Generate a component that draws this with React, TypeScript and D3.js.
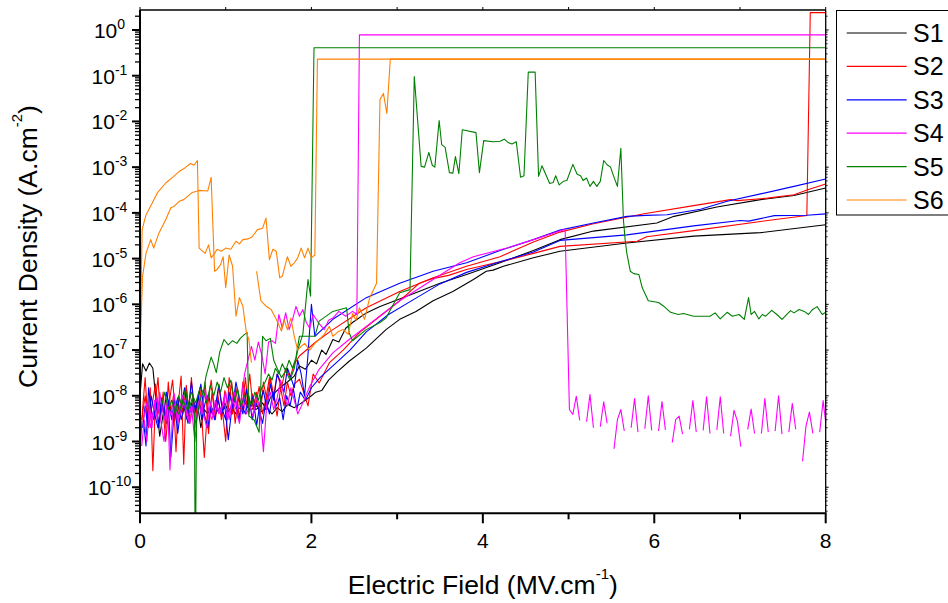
import React from 'react';
import * as d3 from 'd3';

type P = [number, number | null];

// ---------- data (x: MV/cm, y: A/cm^2) ----------
const s1Sweep1: P[] = [[0,1e-8],[0.03,5e-8],[0.07,3.5e-8],[0.11,5.2e-8],[0.15,4e-8],[0.19,7e-9],[0.23,1.3e-9],[0.27,4e-9],[0.31,2.5e-9],[0.35,6e-9],[0.39,3.5e-9],[0.43,7e-9],[0.47,4e-9],[0.51,6e-9],[0.55,3e-9],[0.59,5e-9],[0.63,4.5e-9],[0.67,7e-9],[0.71,2e-9],[0.75,5e-9],[0.79,4e-9],[0.83,6e-9],[0.87,3.5e-9],[0.91,5e-9],[0.95,4e-9],[0.99,7e-9],[1.03,4.5e-9],[1.07,6e-9],[1.11,4e-9],[1.15,5.5e-9],[1.19,5e-9],[1.23,7e-9],[1.27,5e-9],[1.31,6.5e-9],[1.35,5e-9],[1.39,5.5e-9],[1.43,7e-9],[1.47,5e-9],[1.52,9e-9],[1.58,1.2e-8],[1.65,1.6e-8],[1.72,2e-8],[1.8,2.7e-8],[1.86,4.5e-8],[1.93,3.8e-8],[2.0,6e-8],[2.06,5e-8],[2.12,1e-7],[2.17,8e-8],[2.25,1.7e-7],[2.32,1.5e-7],[2.4,3e-7],[2.48,4e-7],[2.64,6.5e-7],[2.8,9e-7],[3.15,1.6e-6],[3.5,2.9e-6],[3.81,4.5e-6],[4.2,8.1e-6],[4.59,1.5e-5],[4.9,2.6e-5],[5.29,4e-5],[6.03,6e-5],[6.23,8.4e-5],[6.73,1.35e-4],[7.24,1.95e-4],[7.63,2.4e-4],[8.0,3.5e-4]];
const s1Sweep2: P[] = [[1.3,5e-9],[1.36,6e-9],[1.42,4.5e-9],[1.48,5.5e-9],[1.54,4e-9],[1.6,5.5e-9],[1.66,4.5e-9],[1.72,6.5e-9],[1.8,5.5e-9],[1.86,6.5e-9],[1.93,8e-9],[2.0,1e-8],[2.05,1.2e-8],[2.12,1.3e-8],[2.2,2.2e-8],[2.29,3.2e-8],[2.44,5.7e-8],[2.64,1.1e-7],[2.87,2.8e-7],[3.03,4.7e-7],[3.22,7e-7],[3.42,1.2e-6],[3.65,1.9e-6],[3.89,3.5e-6],[4.04,5.3e-6],[4.12,5.6e-6],[4.24,6.8e-6],[4.59,1.04e-5],[4.9,1.45e-5],[5.68,2.2e-5],[6.46,3.1e-5],[7.24,3.7e-5],[8.0,5.5e-5]];

const s2Sweep1: P[] = [[0,5.7e-10],[0.03,5e-9],[0.06,2.5e-8],[0.09,3e-9],[0.12,1.5e-8],[0.15,2.3e-10],[0.18,8e-9],[0.21,2.5e-8],[0.24,3e-9],[0.27,1.2e-8],[0.3,2e-9],[0.33,2e-8],[0.36,4e-9],[0.39,1e-8],[0.42,6e-10],[0.45,8e-9],[0.48,2.7e-8],[0.51,3.2e-10],[0.54,1.5e-8],[0.57,5e-9],[0.6,2.5e-8],[0.64,2e-9],[0.68,1e-8],[0.72,4e-9],[0.76,2e-8],[0.8,1.5e-9],[0.84,1.2e-8],[0.88,3e-9],[0.92,1.8e-8],[0.96,5e-9],[1.0,1e-9],[1.04,2.5e-8],[1.08,4e-9],[1.12,1.5e-8],[1.16,3e-9],[1.2,2e-8],[1.24,6e-9],[1.28,3e-8],[1.32,5e-9],[1.36,1.2e-8],[1.4,3e-9],[1.44,2e-8],[1.48,8e-9],[1.52,2.5e-8],[1.56,1e-8],[1.6,3e-8],[1.65,1.5e-8],[1.7,4e-8],[1.75,2.5e-8],[1.8,5e-8],[1.86,7.4e-8],[2.05,1.5e-7],[2.25,2.8e-7],[2.64,8.4e-7],[3.03,1.9e-6],[3.42,3.8e-6],[3.81,6.8e-6],[4.2,1.1e-5],[4.59,2.3e-5],[4.9,3.8e-5],[5.29,5.8e-5],[5.88,9.6e-5],[6.46,1.44e-4],[6.89,1.95e-4],[6.97,1.85e-4],[7.32,2.1e-4],[7.63,2.5e-4],[7.79,3.2e-4],[8.0,4.3e-4]];
const s2Sweep2: P[] = [[0.02,3e-9],[0.06,1e-8],[0.1,2e-9],[0.14,6e-9],[0.18,1.8e-8],[0.22,4e-9],[0.26,8e-9],[0.3,1e-9],[0.34,7e-9],[0.38,2.2e-8],[0.42,3e-9],[0.46,9e-9],[0.5,4e-9],[0.54,1.7e-8],[0.58,2.5e-9],[0.62,8e-9],[0.66,5e-9],[0.7,1.5e-8],[0.75,4.5e-10],[0.79,6e-9],[0.83,2.2e-8],[0.87,5e-9],[0.91,1e-8],[0.95,3e-9],[0.99,1.3e-8],[1.03,5e-9],[1.07,2e-8],[1.11,2.5e-9],[1.15,9e-9],[1.19,5e-9],[1.23,2.5e-8],[1.27,4e-9],[1.31,1.1e-8],[1.35,6e-9],[1.39,1.6e-8],[1.43,4e-9],[1.47,9e-9],[1.51,2.5e-8],[1.55,1.2e-8],[1.6,3.6e-9],[1.64,1.5e-8],[1.68,6e-9],[1.72,2e-8],[1.76,1e-8],[1.8,1.8e-8],[1.86,2.3e-8],[1.96,6e-9],[2.02,3e-8],[2.09,1.9e-8],[2.21,5.3e-8],[2.37,1e-7],[2.56,2.4e-7],[2.8,5.5e-7],[3.03,1.2e-6],[3.26,2.9e-6],[3.4,3.6e-6],[3.6,4.3e-6],[3.81,5.8e-6],[4.2,8.5e-6],[4.59,1.3e-5],[4.9,1.85e-5],[5.8,2.4e-5],[5.91,3e-5],[6.46,4.1e-5],[7.24,6.5e-5],[7.78,8.8e-5],[7.82,2.4],[8.0,2.4]];

const s3Sweep1: P[] = [[0.04,3e-9],[0.07,8e-10],[0.1,1.5e-8],[0.13,5e-9],[0.16,3e-9],[0.19,7e-9],[0.22,2e-9],[0.25,9e-9],[0.28,4e-9],[0.31,1.2e-8],[0.34,6e-9],[0.37,3e-9],[0.4,8e-9],[0.44,1.5e-9],[0.48,6e-9],[0.52,1.5e-8],[0.56,4e-9],[0.6,2e-8],[0.64,5e-9],[0.68,1e-8],[0.72,3e-9],[0.76,7e-9],[0.8,1.1e-8],[0.84,4e-9],[0.88,6e-9],[0.92,1.7e-8],[0.96,5e-9],[1.0,3e-9],[1.04,1.2e-8],[1.08,6e-9],[1.12,2e-8],[1.16,8e-9],[1.2,4e-9],[1.24,1.4e-8],[1.28,5e-9],[1.32,1e-8],[1.36,2.2e-9],[1.4,7e-9],[1.44,1.3e-8],[1.48,5e-9],[1.52,1.8e-8],[1.56,8e-9],[1.6,3e-8],[1.64,2e-8],[1.68,1.2e-8],[1.72,4e-8],[1.76,2.5e-8],[1.8,1.5e-8],[1.84,6e-8],[1.88,3e-8],[1.92,1e-8],[1.96,8e-8],[2.0,1e-6],[2.04,2e-7],[2.25,4.7e-7],[2.64,1.4e-6],[3.03,2.9e-6],[3.42,5.3e-6],[3.81,8.1e-6],[4.2,1.5e-5],[4.59,2.6e-5],[4.9,4.2e-5],[5.29,6e-5],[5.68,8.4e-5],[5.9,8.8e-5],[6.15,9.1e-5],[6.54,1.2e-4],[6.85,1.8e-4],[7.24,2.6e-4],[7.63,3.8e-4],[8.0,5.5e-4]];
const s3Sweep2: P[] = [[0.03,2e-9],[0.06,6e-9],[0.09,2.2e-9],[0.13,1e-8],[0.17,4e-9],[0.21,2e-9],[0.25,6e-9],[0.29,3.5e-9],[0.33,8e-9],[0.36,4.6e-10],[0.4,5e-9],[0.44,9e-9],[0.48,3e-9],[0.52,6e-9],[0.56,2.5e-9],[0.6,7e-9],[0.64,4e-9],[0.68,9e-9],[0.71,1.8e-8],[0.75,4e-9],[0.79,2e-9],[0.83,6e-9],[0.87,3e-9],[0.91,8e-9],[0.95,4e-9],[0.99,6e-9],[1.03,1.1e-9],[1.07,5e-9],[1.11,9e-9],[1.15,3e-9],[1.19,6e-9],[1.23,4e-9],[1.27,1e-8],[1.31,3e-9],[1.35,7e-9],[1.39,5e-9],[1.43,2.5e-9],[1.47,8e-9],[1.51,4e-9],[1.55,1.2e-8],[1.59,6e-9],[1.63,9e-9],[1.67,3e-9],[1.71,1e-8],[1.75,6e-9],[1.79,1.4e-8],[1.83,5e-9],[1.87,1.2e-8],[1.93,8e-9],[2.0,1.5e-8],[2.1,2.5e-8],[2.25,4.5e-8],[2.45,1e-7],[2.64,2.5e-7],[2.9,6e-7],[3.2,1.3e-6],[3.5,2.8e-6],[3.81,5e-6],[4.2,8.5e-6],[4.59,1.4e-5],[4.9,2.5e-5],[5.68,3.3e-5],[6.46,5.2e-5],[7.0,6.8e-5],[7.1,6.6e-5],[7.4,8.7e-5],[7.78,8.9e-5],[8.0,9.5e-5]];

const s4Sweep1: P[] = [[0.02,8e-10],[0.05,3e-9],[0.08,1e-9],[0.11,6e-9],[0.14,2e-9],[0.17,8e-9],[0.2,3e-9],[0.23,1.2e-8],[0.26,5e-9],[0.29,3e-9],[0.32,8e-9],[0.35,2.4e-10],[0.38,4e-9],[0.41,7e-9],[0.44,3e-9],[0.47,6e-9],[0.5,1e-8],[0.54,4e-9],[0.58,2.5e-9],[0.62,6e-9],[0.66,3e-9],[0.7,1e-8],[0.74,4e-9],[0.78,2e-9],[0.82,7e-9],[0.86,3.5e-9],[0.9,6e-9],[0.94,4e-9],[0.98,9e-9],[1.02,3e-9],[1.06,6e-9],[1.1,1.2e-8],[1.14,5e-9],[1.18,8e-9],[1.22,3e-8],[1.26,6e-8],[1.3,1.2e-7],[1.34,6e-8],[1.38,1.5e-7],[1.42,8e-8],[1.46,3e-8],[1.5,1.5e-7],[1.54,1.6e-7],[1.58,1.4e-7],[1.62,6e-7],[1.66,3e-7],[1.7,6.5e-7],[1.74,2.8e-7],[1.78,4.7e-7],[1.82,9e-7],[1.86,5.5e-7],[1.9,7.7e-7],[1.94,4e-7],[1.98,3e-7],[2.02,6e-7],[2.08,4e-7],[2.15,2.8e-7],[2.2,4.5e-7],[2.25,5e-7],[2.32,7e-7],[2.4,5.5e-7],[2.48,7e-7],[2.53,6e-7],[2.56,0.78],[8.0,0.78]];
const s4Sweep2: P[] = [[0.04,3e-9],[0.08,7e-9],[0.12,2e-9],[0.16,5e-9],[0.2,9e-9],[0.24,3e-9],[0.28,1e-9],[0.32,6e-9],[0.36,4e-9],[0.4,1.1e-8],[0.44,2.5e-9],[0.48,5e-9],[0.52,8e-9],[0.56,3e-9],[0.6,6e-9],[0.64,1e-9],[0.68,7e-9],[0.72,4e-9],[0.76,1.4e-8],[0.8,5e-9],[0.84,3e-9],[0.88,8e-9],[0.92,4e-9],[0.96,6e-9],[1.0,1.2e-8],[1.04,3e-9],[1.08,8e-9],[1.12,5e-9],[1.16,2.5e-9],[1.2,9e-9],[1.24,4e-9],[1.28,6e-9],[1.32,3.5e-9],[1.36,1e-8],[1.4,5e-9],[1.44,6e-10],[1.48,7e-9],[1.52,1.2e-8],[1.56,5e-9],[1.6,9e-9],[1.64,2.2e-8],[1.68,1e-8],[1.72,6e-9],[1.76,1.5e-8],[1.8,8e-9],[1.84,4e-9],[1.9,7e-9],[1.98,1.6e-8],[2.09,3.8e-8],[2.25,8.7e-8],[2.44,1.7e-7],[2.64,3.3e-7],[3.03,1.2e-6],[3.42,3.5e-6],[3.73,8.1e-6],[3.89,1.1e-5],[4.28,1.7e-5],[4.59,2.6e-5],[4.96,4.4e-5],
  [5.01,5e-9],[5.05,3.9e-9],[5.09,9.8e-9],[5.13,2.9e-9],[5.17,null],[5.21,2.7e-9],[5.25,1.07e-8],[5.29,2e-9],[5.33,null],[5.37,2.1e-9],[5.41,7.4e-9],[5.45,2.5e-9],[5.49,null],[5.53,6.9e-10],[5.57,3e-9],[5.61,5e-9],[5.65,1.7e-9],[5.69,null],[5.73,2e-9],[5.77,8.7e-9],[5.81,1.6e-9],[5.85,null],[5.89,1.9e-9],[5.93,1e-8],[5.97,1.75e-9],[6.01,null],[6.05,1.7e-9],[6.09,7.5e-9],[6.13,1.8e-9],[6.17,null],[6.21,9.5e-10],[6.25,3e-9],[6.29,3.6e-9],[6.33,1.45e-9],[6.37,null],[6.41,1.85e-9],[6.45,7.9e-9],[6.49,1.6e-9],[6.53,null],[6.57,1.75e-9],[6.61,9.5e-9],[6.65,1.5e-9],[6.69,null],[6.73,1.8e-9],[6.77,9.5e-9],[6.81,1.5e-9],[6.85,null],[6.89,1.3e-9],[6.93,4.8e-9],[6.97,2.8e-9],[7.01,7.7e-10],[7.05,null],[7.09,1.85e-9],[7.13,5.1e-9],[7.17,1.5e-9],[7.21,null],[7.25,1.5e-9],[7.29,8.7e-9],[7.33,1.6e-9],[7.37,null],[7.41,1.7e-9],[7.45,1e-8],[7.49,1.45e-9],[7.53,null],[7.57,1.6e-9],[7.61,6.8e-9],[7.65,1.85e-9],[7.69,null],[7.73,3.7e-10],[7.77,2.2e-9],[7.81,4.4e-9],[7.85,1.5e-9],[7.89,null],[7.93,1.6e-9],[7.97,7.9e-9],[8.0,2.6e-9]];

const s5Sweep1: P[] = [[0.4,6e-9],[0.45,4e-9],[0.5,8e-9],[0.55,5e-9],[0.6,1.2e-8],[0.65,7e-9],[0.7,1.5e-8],[0.74,1.2e-8],[0.77,2.7e-8],[0.83,7e-8],[0.86,5e-8],[0.89,3.2e-8],[0.93,9e-8],[0.98,1.7e-7],[1.03,1.3e-7],[1.08,1.6e-7],[1.13,1.4e-7],[1.17,1.8e-7],[1.22,2.2e-7],[1.25,2.4e-7],[1.27,3.6e-9],[1.33,3e-9],[1.39,1.6e-9],[1.43,2e-7],[1.47,1.6e-7],[1.52,1.8e-7],[1.56,6e-8],[1.6,4e-8],[1.65,2.5e-8],[1.7,3.5e-8],[1.75,2.2e-8],[1.8,4e-8],[1.84,1e-7],[1.9,2.2e-7],[1.96,3.5e-6],[1.99,1.5e-6],[2.03,0.41],[8.0,0.41]];
const s5Sweep2: P[] = [[0.25,6e-9],[0.29,1.2e-8],[0.33,5e-9],[0.37,8e-9],[0.41,4e-9],[0.45,1e-8],[0.49,6e-9],[0.53,1.4e-8],[0.57,5e-9],[0.61,9e-9],[0.635,4e-9],[0.645,1e-12],[0.66,3e-9],[0.7,8e-9],[0.74,1.3e-8],[0.78,7e-9],[0.82,1.7e-8],[0.86,1e-8],[0.9,2e-8],[0.94,1.2e-8],[0.98,2.5e-8],[1.02,1.5e-8],[1.06,2.2e-8],[1.1,8e-9],[1.14,1.4e-8],[1.18,6e-9],[1.22,1e-8],[1.26,1e-8],[1.3,6e-9],[1.34,1.2e-8],[1.38,8e-9],[1.42,1.5e-8],[1.46,2e-8],[1.5,3e-8],[1.54,2.2e-8],[1.58,4e-8],[1.62,3e-8],[1.66,5e-8],[1.7,3.5e-8],[1.74,6e-8],[1.78,4e-8],[1.82,7e-8],[1.86,2e-7],[2.04,2e-7],[2.09,4.3e-7],[2.25,7e-7],[2.41,8.4e-7],[2.44,2.4e-7],[2.48,1.6e-7],[2.64,2.8e-7],[2.8,4e-7],[2.87,5e-7],[3.03,1.8e-6],[3.15,2.1e-6],[3.2,0.096],[3.28,1.04e-3],[3.32,1e-3],[3.37,2.1e-3],[3.41,1.1e-3],[3.44,1e-3],[3.49,1.05e-2],[3.52,3.1e-3],[3.56,2.7e-3],[3.61,7.6e-4],[3.65,7.4e-4],[3.68,1.7e-3],[3.72,7.2e-4],[3.76,6.6e-3],[3.92,5.7e-3],[3.96,7.6e-4],[4.01,3.8e-3],[4.12,3.6e-3],[4.2,3.7e-3],[4.25,4.1e-3],[4.3,3.4e-3],[4.34,3.2e-3],[4.39,3.6e-3],[4.44,6e-4],[4.48,6.5e-4],[4.53,0.12],[4.61,0.12],[4.65,6.3e-4],[4.69,1.07e-3],[4.78,4.4e-4],[4.82,4.6e-4],[4.85,6.5e-4],[4.89,4.1e-4],[4.94,4.9e-4],[4.98,5.1e-4],[5.05,1.15e-3],[5.1,7e-4],[5.14,6.5e-4],[5.17,5.1e-4],[5.21,5.8e-4],[5.25,3.8e-4],[5.29,4.9e-4],[5.33,3.8e-4],[5.37,4.9e-4],[5.41,1.4e-3],[5.45,1.13e-3],[5.49,1e-3],[5.52,6.8e-4],[5.57,3.8e-4],[5.61,2.6e-3],[5.64,7.1e-5],[5.66,2.6e-5],[5.68,1.3e-5],[5.72,5.3e-6],[5.76,4.7e-6],[5.82,4.5e-6],[5.86,2.3e-6],[5.93,1.2e-6],[6.05,1.1e-6],[6.11,9.1e-7],[6.19,6.7e-7],[6.28,6e-7],[6.34,6.3e-7],[6.46,5.5e-7],[6.65,5.5e-7],[6.71,6.5e-7],[6.77,4.8e-7],[6.85,6.7e-7],[6.91,5.5e-7],[6.99,6e-7],[7.05,4.7e-7],[7.1,1.4e-6],[7.13,6e-7],[7.17,7e-7],[7.22,4.8e-7],[7.26,6e-7],[7.3,5.5e-7],[7.37,7.4e-7],[7.43,6e-7],[7.49,4.7e-7],[7.59,7.3e-7],[7.63,6.5e-7],[7.69,7.7e-7],[7.75,7e-7],[7.8,6e-7],[7.84,7.5e-7],[7.9,8.9e-7],[7.96,6e-7],[8.0,6.7e-7]];

const s6Sweep1: P[] = [[0,1e-7],[0.025,4.3e-5],[0.07,9e-5],[0.14,1.6e-4],[0.2,2.7e-4],[0.3,4.5e-4],[0.38,6e-4],[0.46,8.1e-4],[0.52,9.5e-4],[0.59,1.2e-3],[0.63,1.1e-3],[0.67,1.4e-3],[0.69,1.7e-5],[0.76,1.3e-5],[0.8,2e-5],[0.83,1.04e-5],[0.87,1.3e-5],[0.9,1.6e-5],[0.95,1.45e-5],[1.0,1.7e-5],[1.06,1.6e-5],[1.12,2.4e-5],[1.16,2.1e-5],[1.2,2.6e-5],[1.26,2.7e-5],[1.31,3e-5],[1.37,4.3e-5],[1.43,4.6e-5],[1.47,7.7e-5],[1.51,9.5e-6],[1.55,1.6e-5],[1.59,1.45e-5],[1.63,3.8e-6],[1.66,4.1e-6],[1.72,1.1e-5],[1.76,6.8e-6],[1.8,8.1e-6],[1.84,1.04e-5],[1.88,1.7e-5],[1.92,1.04e-5],[1.96,1.7e-5],[2.0,1.04e-5],[2.04,1.2e-5],[2.07,0.23],[8.0,0.23]];
const s6Sweep2: P[] = [[0,1e-7],[0.03,4.1e-6],[0.07,1.3e-5],[0.125,2.6e-5],[0.16,1.7e-5],[0.22,3.6e-5],[0.3,7.1e-5],[0.36,1.3e-4],[0.4,1.4e-4],[0.46,1.8e-4],[0.51,1.95e-4],[0.61,2.8e-4],[0.69,3.1e-4],[0.79,3e-4],[0.83,6e-4],[0.87,5.3e-6],[0.9,5.8e-6],[0.94,7.4e-6],[0.97,1.1e-5],[1.0,2.3e-6],[1.04,1.2e-5],[1.08,6.8e-6],[1.12,5.5e-7],[1.16,1.4e-6],[1.2,9.1e-7],[1.24,2.5e-7],[1.27,1.7e-7],[1.3,5.3e-8],[1.33,null],[1.36,5.3e-6],[1.41,1.2e-6],[1.47,9.1e-7],[1.53,7.7e-7],[1.59,4.7e-7],[1.65,2.6e-7],[1.68,4.7e-7],[1.72,2.8e-7],[1.76,5e-7],[1.8,2e-7],[1.84,1e-7],[1.88,1.2e-7],[1.92,1.4e-7],[1.98,1e-7],[2.04,1.4e-7],[2.09,1.7e-7],[2.15,2.2e-7],[2.21,3.3e-7],[2.25,2e-7],[2.31,2.5e-7],[2.37,2.8e-7],[2.43,2.2e-7],[2.48,6.3e-7],[2.52,4.5e-7],[2.56,8.4e-7],[2.62,4.7e-7],[2.68,1.4e-6],[2.76,2.9e-6],[2.8,0.03],[2.84,0.041],[2.88,0.015],[2.92,0.23],[8.0,0.23]];

const seriesNames = ['S1', 'S2', 'S3', 'S4', 'S5', 'S6'];
const seriesColors = ['#000000', '#ff0000', '#0000ff', '#ff00ff', '#008000', '#ff8000'];
const seriesCurves: P[][][] = [
  [s1Sweep1, s1Sweep2],
  [s2Sweep1, s2Sweep2],
  [s3Sweep1, s3Sweep2],
  [s4Sweep1, s4Sweep2],
  [s5Sweep1, s5Sweep2],
  [s6Sweep1, s6Sweep2],
];

const xMajorTicks = [0, 2, 4, 6, 8];
const xMinorTicks = [1, 3, 5, 7];
const yExponents = [0, -1, -2, -3, -4, -5, -6, -7, -8, -9, -10];

const FONT = '"Liberation Sans", Arial, Helvetica, sans-serif';

export default function App() {
  const W = 948, H = 603;
  const left = 140, right = 825.7, top = 10, bottom = 513.3;
  const x = d3.scaleLinear().domain([0, 8]).range([left, right]);
  const y = d3.scaleLog().domain([Math.pow(10, -10.57), Math.pow(10, 0.437)]).range([bottom, top]);
  const [yLo, yHi] = y.domain();

  const line = d3.line<P>()
    .defined(d => d[1] !== null && (d[1] as number) > 0)
    .x(d => x(d[0]))
    .y(d => y(d[1] as number));

  const yMinor: number[] = [];
  for (let k = -11; k <= 0; k++) {
    for (let m = 2; m <= 9; m++) {
      const v = m * Math.pow(10, k);
      if (v >= yLo && v <= yHi) yMinor.push(v);
    }
  }
  const allXInts = [...xMajorTicks, ...xMinorTicks];

  const legendX = 836.5, legendY = 10.5, legendRow = 33.4;

  return (
    <svg width={W} height={H} style={{ position: 'absolute', left: 0, top: 0, background: '#fff' }}
      fontFamily={FONT}>
      <defs>
        <clipPath id="plotClip">
          <rect x={left} y={top} width={right - left + 1} height={bottom - top} />
        </clipPath>
      </defs>
      <rect x={0} y={0} width={W} height={H} fill="#fff" />

      <g clipPath="url(#plotClip)">
        {seriesCurves.map((curves, si) =>
          curves.map((c, ci) => (
            <path key={`${si}-${ci}`} d={line(c) || ''} fill="none"
              stroke={seriesColors[si]} strokeWidth={1.1} strokeLinejoin="round" />
          ))
        )}
      </g>

      {/* frame top & right */}
      <line x1={left} x2={right} y1={top} y2={top} stroke="#000" strokeWidth={1.3} />
      <line x1={right} x2={right} y1={top} y2={bottom} stroke="#000" strokeWidth={1.3} />
      {allXInts.map(t => (
        <line key={`tt${t}`} x1={x(t)} x2={x(t)} y1={top} y2={top - 3} stroke="#000" strokeWidth={1} />
      ))}
      {yExponents.map(k => (
        <line key={`rt${k}`} x1={right} x2={right + 3} y1={y(Math.pow(10, k))} y2={y(Math.pow(10, k))} stroke="#000" strokeWidth={1} />
      ))}
      {yMinor.map((v, i) => (
        <line key={`rm${i}`} x1={right} x2={right + 2} y1={y(v)} y2={y(v)} stroke="#000" strokeWidth={0.8} />
      ))}

      {/* bottom axis */}
      <line x1={left - 1} x2={right + 0.7} y1={bottom} y2={bottom} stroke="#000" strokeWidth={2} />
      {xMajorTicks.map(t => (
        <g key={`xb${t}`}>
          <line x1={x(t)} x2={x(t)} y1={bottom} y2={bottom + 10} stroke="#000" strokeWidth={2} />
          <text x={x(t)} y={548} textAnchor="middle" fontSize={21} fill="#000">{t}</text>
        </g>
      ))}
      {xMinorTicks.map(t => (
        <line key={`xm${t}`} x1={x(t)} x2={x(t)} y1={bottom} y2={bottom + 6} stroke="#000" strokeWidth={2} />
      ))}

      {/* left axis */}
      <line x1={left} x2={left} y1={top} y2={bottom + 1} stroke="#000" strokeWidth={2} />
      {yExponents.map(k => {
        const py = y(Math.pow(10, k));
        return (
          <g key={`yl${k}`}>
            <line x1={left - 8} x2={left} y1={py} y2={py} stroke="#000" strokeWidth={2} />
            <text x={109.5} y={py + 8} textAnchor="middle" fontSize={21} fill="#000">
              <tspan>10</tspan>
              <tspan dy={-9} fontSize={14}>{k === 0 ? '0' : `-${-k}`}</tspan>
            </text>
          </g>
        );
      })}
      {yMinor.map((v, i) => (
        <line key={`ym${i}`} x1={left - 5} x2={left} y1={y(v)} y2={y(v)} stroke="#000" strokeWidth={1.3} />
      ))}

      {/* axis titles */}
      <text x={(left + right) / 2} y={594} textAnchor="middle" fontSize={26.5} fill="#000">
        <tspan>Electric Field (MV.cm</tspan>
        <tspan dy={-15} fontSize={15}>-1</tspan>
        <tspan dy={15}>)</tspan>
      </text>
      <text transform={`translate(37,${246.5}) rotate(-90)`} textAnchor="middle" fontSize={26.5} fill="#000">
        <tspan>Current Density (A.cm</tspan>
        <tspan dy={-15} fontSize={15}>-2</tspan>
        <tspan dy={15}>)</tspan>
      </text>

      {/* legend */}
      <rect x={legendX} y={legendY} width={140} height={204.5} fill="#fff" stroke="#000" strokeWidth={1} />
      {seriesNames.map((n, i) => {
        const ly = 33 + i * legendRow;
        return (
          <g key={n}>
            <line x1={846.7} x2={906.7} y1={ly} y2={ly} stroke={seriesColors[i]} strokeWidth={1.2} />
            <text x={913} y={ly + 9} fontSize={25} fill="#000">{n}</text>
          </g>
        );
      })}
    </svg>
  );
}
